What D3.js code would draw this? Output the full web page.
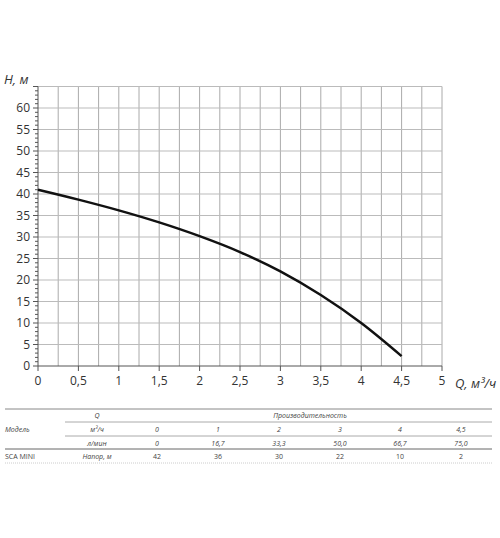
<!DOCTYPE html><html><head><meta charset="utf-8"><script src="https://cdn.jsdelivr.net/npm/d3@7"></script>
<style>body{margin:0;background:#fff}text{font-family:"Open Sans",sans-serif}</style></head><body><svg id="c" width="500" height="538"></svg>
<script>
const curveQ=[0,0.5,1,1.5,2,2.5,3,3.5,4,4.5];
const curveH=[41,38.7,36.2,33.4,30.2,26.5,22,16.5,10,2.3];
const xTicks=[0,0.5,1,1.5,2,2.5,3,3.5,4,4.5,5];
const xTickLabels=["0","0,5","1","1,5","2","2,5","3","3,5","4","4,5","5"];
const yTicks=[0,5,10,15,20,25,30,35,40,45,50,55,60];
const tblM3=["0","1","2","3","4","4,5"];
const tblLmin=["0","16,7","33,3","50,0","66,7","75,0"];
const tblHead=["42","36","30","22","10","2"];
const svg=d3.select("#c");
const x=d3.scaleLinear().domain([0,5]).range([38,442]);
const y=d3.scaleLinear().domain([0,65]).range([366,86.5]);
const g=svg.append("g");
d3.range(0.25,5.01,0.25).forEach(v=>g.append("line").attr("x1",x(v)).attr("x2",x(v)).attr("y1",y(0)).attr("y2",y(65)).attr("stroke","#aaa").attr("stroke-width",1));
d3.range(5,65.1,5).forEach(v=>g.append("line").attr("x1",x(0)).attr("x2",x(5)).attr("y1",y(v)).attr("y2",y(v)).attr("stroke","#bbb").attr("stroke-width",1));
d3.range(0,65.1,1).forEach(v=>g.append("line").attr("x1",x(0)-(v%5?3:5)).attr("x2",x(0)).attr("y1",y(v)).attr("y2",y(v)).attr("stroke","#555"));
g.append("line").attr("x1",x(0)).attr("x2",x(0)).attr("y1",y(0)).attr("y2",y(65)).attr("stroke","#555");
g.append("line").attr("x1",x(0)).attr("x2",x(5)).attr("y1",y(0)).attr("y2",y(0)).attr("stroke","#555");
xTicks.forEach((v,i)=>{g.append("line").attr("x1",x(v)).attr("x2",x(v)).attr("y1",y(0)).attr("y2",y(0)+5).attr("stroke","#555");
g.append("text").attr("x",x(v)).attr("y",385).attr("text-anchor","middle").attr("font-size",12).attr("fill","#333").text(xTickLabels[i]);});
yTicks.forEach(v=>g.append("text").attr("x",30).attr("y",y(v)+4).attr("text-anchor","end").attr("font-size",12).attr("fill","#333").text(v));
g.append("text").attr("x",4).attr("y",84).attr("font-size",13).attr("font-style","italic").attr("fill","#333").text("H, м");
g.append("text").attr("x",455).attr("y",388).attr("font-size",13).attr("font-style","italic").attr("fill","#333").text("Q, м³/ч");
const pts=curveQ.map((q,i)=>[x(q),y(curveH[i])]);
g.append("path").attr("d",d3.line().curve(d3.curveCatmullRom)(pts)).attr("fill","none").attr("stroke","#111").attr("stroke-width",2.5);
// table
const cols=[157,218,279,340,400,461];
const ln=(x1,x2,yy,c,w)=>g.append("line").attr("x1",x1).attr("x2",x2).attr("y1",yy).attr("y2",yy).attr("stroke",c).attr("stroke-width",w);
ln(5,492,409,"#888",1);ln(65,492,422,"#aaa",1);ln(65,492,436,"#aaa",1);ln(5,492,449,"#666",1);ln(5,492,463,"#ccc",1).attr("stroke-dasharray","1,1");
const t=(xx,yy,s,it,anc)=>g.append("text").attr("x",xx).attr("y",yy).attr("font-size",7).attr("font-style",it?"italic":"normal").attr("text-anchor",anc||"middle").attr("fill","#444").text(s);
t(97,418,"Q",1);t(310,418,"Производительность",1);t(5,432,"Модель",1,"start");t(97,432,"м³/ч",1);t(97,446,"л/мин",1);
t(5,459,"SCA MINI",0,"start");t(97,459,"Напор, м",1);
cols.forEach((c,i)=>{t(c,432,tblM3[i],1);t(c,446,tblLmin[i],1);t(c,459,tblHead[i],0);});
</script></body></html>
